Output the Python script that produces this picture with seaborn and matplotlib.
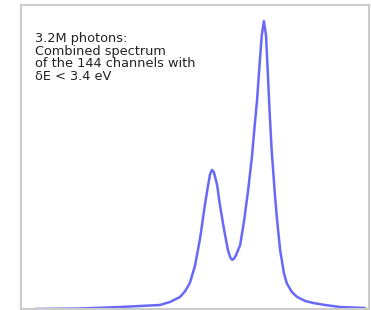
import matplotlib
matplotlib.use("Agg")
import matplotlib.pyplot as plt
import seaborn as sns
import pandas as pd

# Energy (eV) and relative counts
energy_ev = [5850.1, 5859.6, 5868.1, 5872.4, 5876.6, 5878.8, 5880.9, 5882.0, 5883.0,
             5884.1, 5885.2, 5886.2, 5886.9, 5887.3, 5887.7, 5888.1, 5888.8, 5889.4,
             5890.3, 5891.1, 5891.6, 5892.0, 5892.4, 5892.8, 5893.7, 5894.5, 5895.4,
             5896.2, 5896.8, 5897.3, 5897.9, 5898.3, 5898.75, 5899.2, 5899.6, 5900.0,
             5900.4, 5901.1, 5901.5, 5902.2, 5903.0, 5903.6, 5904.7, 5905.8, 5907.5,
             5909.2, 5911.7, 5914.9, 5920.2]
counts = [0.0, 0.17, 0.69, 1.04, 1.39, 2.43, 4.17, 6.2, 9.0,
          15.0, 24.7, 36.1, 43.1, 46.8, 48.3, 47.6, 43.1, 36.1,
          27.4, 20.5, 17.9, 17.1, 17.5, 18.6, 22.2, 30.2, 41.3,
          52.8, 63.9, 72.6, 86.5, 95.1, 100.0, 95.1, 81.3, 67.4,
          55.2, 39.6, 31.9, 20.5, 12.5, 9.0, 5.9, 4.2, 2.8,
          2.1, 1.4, 0.7, 0.35]
annotation = "3.2M photons:\nCombined spectrum\nof the 144 channels with\n\u03b4E < 3.4 eV"

sns.set_style("white")
plt.rcParams['font.family'] = ['DejaVu Sans']

fig = plt.figure(figsize=(3.71, 3.10), dpi=100)
ax = fig.add_axes([21/371, 1/310, 348/371, 304/310])

df = pd.DataFrame({"energy": energy_ev, "counts": counts})
sns.lineplot(data=df, x="energy", y="counts", ax=ax, color="#4f4ff8",
             linewidth=1.8, alpha=0.85)

ax.set_xlim(5847.1, 5921.1)
ax.set_ylim(0, 105.6)
ax.set_xticks([])
ax.set_yticks([])
ax.set_xlabel("")
ax.set_ylabel("")
for s in ax.spines.values():
    s.set_color("#cccccc")
    s.set_linewidth(1.5)

ax.text(0.04, 0.91, annotation, transform=ax.transAxes, ha="left", va="top",
        fontsize=9.3, color="#222222", linespacing=0.95)

fig.savefig("out.png", dpi=100)
